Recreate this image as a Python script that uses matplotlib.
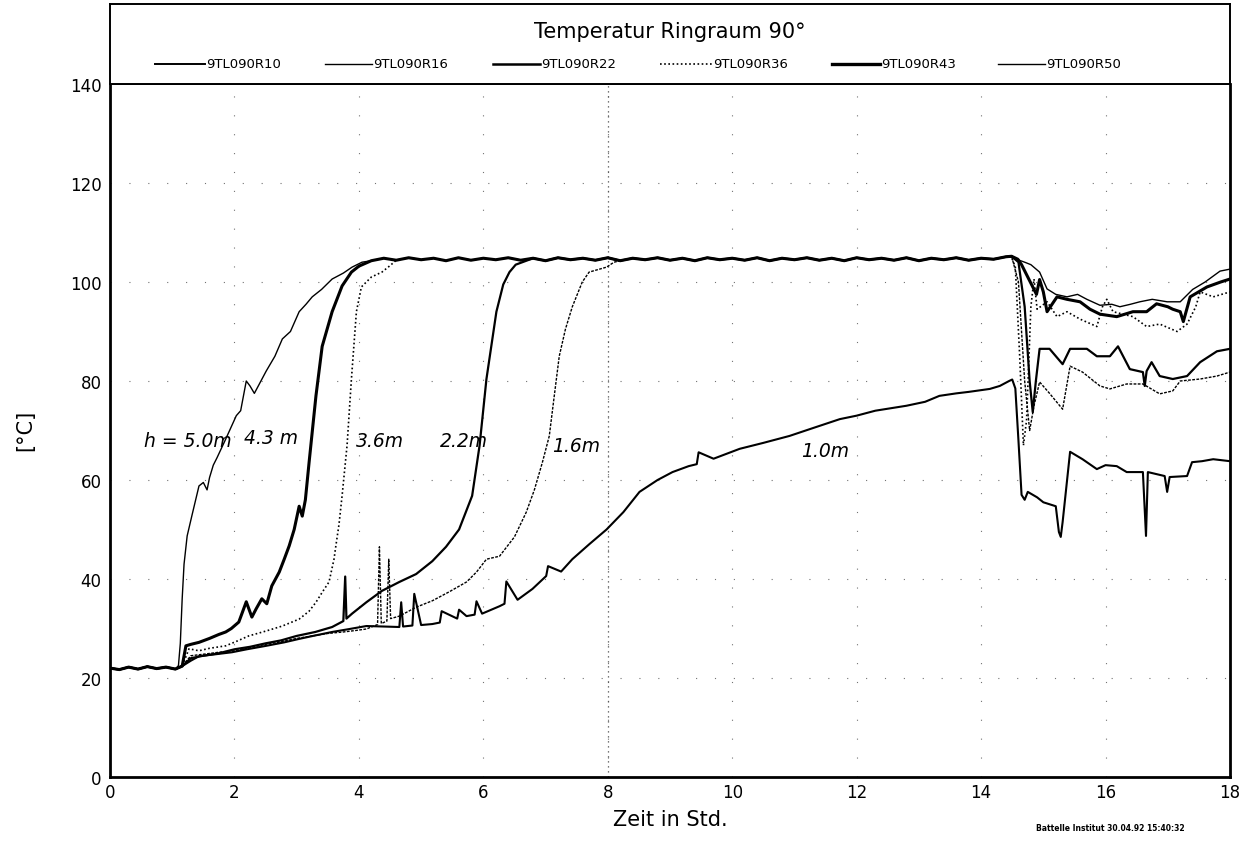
import matplotlib
matplotlib.use("Agg")
import matplotlib.pyplot as plt
from matplotlib.lines import Line2D

# ---------------- data ----------------
title = "Temperatur Ringraum 90°"
series_names = ["9TL090R10", "9TL090R16", "9TL090R22", "9TL090R36", "9TL090R43", "9TL090R50"]
height_labels = ["h = 5.0m", "4.3 m", "3.6m", "2.2m", "1.6m", "1.0m"]
height_label_x = [0.55, 2.15, 3.95, 5.3, 7.1, 11.1]
height_label_y = [68.0, 68.5, 68.0, 68.0, 67.0, 66.0]
x_ticks = [0, 2, 4, 6, 8, 10, 12, 14, 16, 18]
y_ticks = [0, 20, 40, 60, 80, 100, 120, 140]

# common initial part (all sensors)
start_t = [0.0, 0.15, 0.3, 0.45, 0.6, 0.75, 0.9, 1.05]
start_v = [22.0, 21.7, 22.2, 21.8, 22.3, 21.9, 22.2, 21.8]

# common plateau (all sensors at saturation)
plat_t = [4.2, 4.4, 4.6, 4.8, 5.0, 5.2, 5.4, 5.6, 5.8, 6.0, 6.2, 6.4, 6.6, 6.8, 7.0,
          7.2, 7.4, 7.6, 7.8, 8.0, 8.2, 8.4, 8.6, 8.8, 9.0, 9.2, 9.4, 9.6, 9.8, 10.0,
          10.2, 10.4, 10.6, 10.8, 11.0, 11.2, 11.4, 11.6, 11.8, 12.0, 12.2, 12.4, 12.6,
          12.8, 13.0, 13.2, 13.4, 13.6, 13.8, 14.0, 14.2, 14.4]
plat_v = [104.3, 104.8, 104.4, 104.9, 104.5, 104.8, 104.3, 104.9, 104.4, 104.8, 104.5,
          104.9, 104.4, 104.8, 104.3, 104.9, 104.5, 104.8, 104.4, 104.9, 104.3, 104.8,
          104.5, 104.9, 104.4, 104.8, 104.3, 104.9, 104.5, 104.8, 104.4, 104.9, 104.3,
          104.8, 104.5, 104.9, 104.4, 104.8, 104.3, 104.9, 104.5, 104.8, 104.4, 104.9,
          104.3, 104.8, 104.5, 104.9, 104.4, 104.8, 104.6, 105.1]

# R50 : h = 5.0 m
r50_rise_t = [1.1, 1.13, 1.16, 1.19, 1.24, 1.32, 1.43, 1.5, 1.56, 1.6, 1.66, 1.72, 1.85,
              2.03, 2.1, 2.19, 2.25, 2.32, 2.51, 2.65, 2.77, 2.9, 3.04, 3.15, 3.25, 3.4,
              3.57, 3.75, 3.89, 4.05]
r50_rise_v = [22.5, 27, 36, 43, 48.7, 53, 58.8, 59.5, 58, 60.5, 63, 64.5, 68, 73, 74, 80,
              79, 77.5, 82, 85, 88.5, 90, 94, 95.5, 97, 98.5, 100.6, 101.8, 103, 104]
r50_post_t = [14.49, 14.59, 14.7, 14.8, 14.94, 15.06, 15.2, 15.38, 15.55, 15.7, 15.91,
              16.1, 16.23, 16.4, 16.55, 16.75, 16.99, 17.2, 17.4, 17.6, 17.84, 18.0]
r50_post_v = [105.2, 104.5, 104, 103.5, 102, 98.6, 97.5, 97, 97.5, 96.5, 95.3, 95.5, 95,
              95.5, 96, 96.5, 96, 96, 98.5, 100, 102.2, 102.6]

# R43 : h = 4.3 m
r43_rise_t = [1.16, 1.22, 1.3, 1.43, 1.6, 1.75, 1.86, 1.95, 2.07, 2.12, 2.19, 2.28, 2.35,
              2.44, 2.52, 2.6, 2.72, 2.8, 2.88, 2.96, 3.04, 3.09, 3.14, 3.2, 3.31, 3.41,
              3.57, 3.73, 3.88, 4.0, 4.2]
r43_rise_v = [22.4, 26.5, 26.8, 27.2, 28, 28.8, 29.3, 30, 31.3, 33, 35.4, 32.3, 34, 36, 35,
              38.6, 41.4, 44, 46.7, 50, 54.7, 52.7, 56, 63.6, 77, 87, 94, 99.2, 102, 103.2,
              104.3]
r43_post_t = [14.49, 14.59, 14.65, 14.75, 14.83, 14.89, 14.94, 15.0, 15.06, 15.22, 15.38,
              15.59, 15.75, 15.91, 16.18, 16.44, 16.66, 16.82, 17.0, 17.08, 17.2, 17.25,
              17.36, 17.63, 17.85, 18.0]
r43_post_v = [105.2, 104.6, 103.5, 101, 99, 97.5, 100.5, 98, 94, 97, 96.5, 96, 94.5, 93.5,
              93, 94, 94, 95.6, 95, 94.5, 94, 92, 97, 99, 100, 100.6]

# R36 : h = 3.6 m
r36_rise_t = [1.16, 1.27, 1.43, 1.6, 1.86, 2.05, 2.23, 2.51, 2.77, 3.04, 3.2, 3.31, 3.42,
              3.52, 3.6, 3.63, 3.68, 3.73, 3.81, 3.88, 3.96, 4.04, 4.2, 4.37, 4.5]
r36_rise_v = [22.4, 25.9, 25.5, 26, 26.5, 27.5, 28.5, 29.5, 30.5, 31.9, 33.5, 35.3, 37.5,
              39.4, 44, 46.7, 51, 56.8, 67, 80.4, 94, 99, 101, 102, 103.3]
r36_post_t = [14.49, 14.55, 14.62, 14.68, 14.73, 14.8, 14.85, 14.9, 15.06, 15.22, 15.38,
              15.59, 15.86, 15.95, 16.02, 16.12, 16.44, 16.66, 16.87, 17.15, 17.31, 17.45,
              17.52, 17.73, 18.0]
r36_post_v = [105, 103, 85, 67, 72, 95, 100.6, 94.5, 96, 93, 94, 92.5, 91, 95, 96.5, 94, 93,
              91, 91.5, 90, 91.5, 95, 98, 97, 98]

# R22 : h = 2.2 m
r22_rise_t = [1.16, 1.3, 1.5, 1.75, 2.0, 2.25, 2.5, 2.75, 3.0, 3.3, 3.57, 3.75, 3.78, 3.8,
              3.89, 4.12, 4.37, 4.65, 4.92, 5.18, 5.4, 5.61, 5.82, 5.94, 6.05, 6.21, 6.32,
              6.42, 6.52]
r22_rise_v = [22.4, 24, 24.5, 25, 25.8, 26.3, 27, 27.6, 28.5, 29.3, 30.3, 31.5, 40.5, 32,
              33, 35.3, 37.6, 39.4, 41, 43.6, 46.5, 50, 56.8, 67, 80.4, 94, 99.5, 102, 103.5]
r22_post_t = [14.49, 14.6, 14.7, 14.78, 14.83, 14.88, 14.94, 15.1, 15.31, 15.43, 15.7,
              15.86, 16.07, 16.2, 16.39, 16.6, 16.63, 16.66, 16.74, 16.87, 17.08, 17.31,
              17.52, 17.79, 18.0]
r22_post_v = [105.2, 104, 95, 80, 73.7, 80, 86.5, 86.5, 83.4, 86.5, 86.5, 85, 85, 87, 82.4,
              81.8, 79, 82, 83.8, 81, 80.4, 81, 83.8, 86, 86.5]

# R16 : h = 1.6 m
r16_rise_t = [1.16, 1.3, 1.5, 1.75, 2.0, 2.25, 2.5, 2.75, 3.0, 3.25, 3.5, 3.75, 3.95, 4.12,
              4.3, 4.33, 4.36, 4.45, 4.48, 4.51, 4.65, 4.92, 5.18, 5.45, 5.73, 5.89, 6.05,
              6.26, 6.5, 6.69, 6.82, 6.95, 7.06, 7.14, 7.22, 7.32, 7.43, 7.59, 7.7, 7.98, 8.1]
r16_rise_v = [22.4, 24.5, 24.8, 25.2, 25.5, 26.1, 26.8, 27.3, 28, 28.5, 29, 29.3, 29.6,
              29.9, 30.8, 46.5, 31, 31.5, 44, 32, 32.5, 34.3, 35.6, 37.4, 39.4, 41.4, 44,
              44.6, 48.5, 53.5, 58, 63.6, 68.9, 77, 85, 90.5, 95, 100, 102, 103, 104]
r16_post_t = [14.49, 14.6, 14.7, 14.78, 14.85, 14.94, 15.1, 15.31, 15.43, 15.63, 15.91,
              16.07, 16.34, 16.6, 16.87, 17.08, 17.2, 17.52, 17.79, 18.0]
r16_post_v = [105.2, 100, 80, 70, 75, 79.8, 77.5, 74.3, 83, 81.8, 79, 78.4, 79.4, 79.4,
              77.4, 78, 80, 80.4, 81, 81.8]

# R10 : h = 1.0 m (never reaches the plateau)
r10_rise_t = [1.16, 1.3, 1.43, 1.7, 1.96, 2.2, 2.51, 2.8, 3.04, 3.3, 3.57, 3.85, 4.12, 4.4,
              4.65, 4.68, 4.71, 4.86, 4.89, 5.0, 5.18, 5.3, 5.33, 5.58, 5.61, 5.73, 5.86,
              5.89, 5.98, 6.26, 6.34, 6.37, 6.55, 6.79, 7.01, 7.04, 7.25, 7.43, 7.7, 7.98,
              8.25, 8.51, 8.8, 9.04, 9.3, 9.43, 9.46, 9.7, 10.12, 10.5, 10.92, 11.3, 11.73,
              12.0, 12.3, 12.8, 13.1, 13.33, 13.6, 13.8, 14.14, 14.3, 14.45]
r10_rise_v = [22.4, 23.5, 24.4, 24.8, 25.2, 25.8, 26.5, 27.2, 27.9, 28.6, 29.3, 29.9, 30.5,
              30.4, 30.3, 35.3, 30.4, 30.6, 37, 30.7, 30.9, 31.2, 33.5, 32, 33.8, 32.5,
              32.8, 35.5, 33, 34.5, 35, 39.5, 35.8, 38, 40.6, 42.6, 41.5, 44, 47, 50, 53.5,
              57.6, 60, 61.6, 62.8, 63.2, 65.6, 64.3, 66.3, 67.5, 68.9, 70.5, 72.3, 73, 74,
              75, 75.8, 77, 77.5, 77.8, 78.4, 79, 80]
r10_post_t = [14.5, 14.55, 14.6, 14.65, 14.7, 14.75, 14.9, 15.0, 15.2, 15.25, 15.28, 15.31,
              15.43, 15.63, 15.86, 16.0, 16.18, 16.34, 16.6, 16.65, 16.68, 16.95, 16.99,
              17.03, 17.31, 17.39, 17.55, 17.73, 18.0]
r10_post_v = [80.3, 78.5, 68, 57, 56, 57.6, 56.5, 55.5, 54.7, 49.5, 48.5, 51.5, 65.7, 64.2,
              62.2, 63, 62.8, 61.6, 61.6, 48.7, 61.6, 60.8, 57.6, 60.6, 60.8, 63.6, 63.8,
              64.2, 63.8]


def assemble(rise_t, rise_v, post_t, post_v, use_plateau=True):
    t = list(start_t) + list(rise_t)
    v = list(start_v) + list(rise_v)
    if use_plateau:
        for pt, pv in zip(plat_t, plat_v):
            if pt > rise_t[-1] + 0.08:
                t.append(pt)
                v.append(pv)
    return t + list(post_t), v + list(post_v)


curves = {
    "9TL090R10": assemble(r10_rise_t, r10_rise_v, r10_post_t, r10_post_v, use_plateau=False),
    "9TL090R16": assemble(r16_rise_t, r16_rise_v, r16_post_t, r16_post_v),
    "9TL090R22": assemble(r22_rise_t, r22_rise_v, r22_post_t, r22_post_v),
    "9TL090R36": assemble(r36_rise_t, r36_rise_v, r36_post_t, r36_post_v),
    "9TL090R43": assemble(r43_rise_t, r43_rise_v, r43_post_t, r43_post_v),
    "9TL090R50": assemble(r50_rise_t, r50_rise_v, r50_post_t, r50_post_v),
}

plot_styles = {
    "9TL090R10": dict(lw=1.5, ls="-"),
    "9TL090R16": dict(lw=1.0, ls=(0, (2, 1))),
    "9TL090R22": dict(lw=1.6, ls="-"),
    "9TL090R36": dict(lw=1.2, ls=(0, (1, 1.5))),
    "9TL090R43": dict(lw=2.2, ls="-"),
    "9TL090R50": dict(lw=1.0, ls="-"),
}
legend_styles = {
    "9TL090R10": dict(lw=1.4, ls="-"),
    "9TL090R16": dict(lw=1.0, ls="-"),
    "9TL090R22": dict(lw=1.8, ls="-"),
    "9TL090R36": dict(lw=1.2, ls=(0, (1, 1.5))),
    "9TL090R43": dict(lw=2.4, ls="-"),
    "9TL090R50": dict(lw=1.0, ls="-"),
}

# ---------------- figure ----------------
W, H = 1241, 845
fig = plt.figure(figsize=(W / 100, H / 100), dpi=100)
fig.patch.set_facecolor("white")

left_px, right_px, top_px, bottom_px = 110, 1230, 85, 778
ax = fig.add_axes([left_px / W, 1 - bottom_px / H, (right_px - left_px) / W,
                   (bottom_px - top_px) / H])
hax = fig.add_axes([left_px / W, 1 - top_px / H, (right_px - left_px) / W, 80 / H])

# grid (very sparse dots like the plotter output)
for xv in x_ticks[1:-1]:
    ax.axvline(xv, color="0.45", lw=0.8, ls=(0, (1, 16)), zorder=0)
for yv in y_ticks[1:-1]:
    ax.axhline(yv, color="0.45", lw=0.8, ls=(0, (1, 16)), zorder=0)
ax.axvline(8, color="0.3", lw=0.9, ls=(0, (1, 3)), zorder=0)

for name in series_names:
    t, v = curves[name]
    st = plot_styles[name]
    ax.plot(t, v, color="black", lw=st["lw"], linestyle=st["ls"], zorder=3)

ax.set_xlim(0, 18)
ax.set_ylim(0, 140)
ax.set_xticks(x_ticks)
ax.set_yticks(y_ticks)
ax.set_xticklabels([str(x) for x in x_ticks])
ax.set_yticklabels([str(y) for y in y_ticks])
ax.tick_params(axis="both", length=0, labelsize=12, colors="black")
ax.tick_params(axis="x", pad=4)
ax.tick_params(axis="y", pad=6)
for side in ["left", "bottom", "right"]:
    ax.spines[side].set_linewidth(2.0)
ax.spines["top"].set_linewidth(1.4)

ax.set_xlabel("Zeit in Std.", fontsize=15, labelpad=6)
fig.text(25 / W, 1 - 430 / H, "[°C]", rotation=90, fontsize=15, ha="center", va="center")

# hand-written height annotations
for lab, lx, ly in zip(height_labels, height_label_x, height_label_y):
    ax.text(lx, ly, lab, fontsize=13.5, style="italic", family="DejaVu Sans",
            ha="left", va="center", zorder=4)

# header box with title and legend
hax.set_xlim(0, 1)
hax.set_ylim(0, 1)
hax.set_xticks([])
hax.set_yticks([])
for side in hax.spines.values():
    side.set_linewidth(1.4)
hax.text(0.5, 0.66, title, ha="center", va="center", fontsize=15)

line_start_px = [155, 325, 493, 660, 832, 998]
line_end_px = [205, 372, 540, 712, 880, 1045]
for name, ls_px, le_px in zip(series_names, line_start_px, line_end_px):
    x0 = (ls_px - left_px) / (right_px - left_px)
    x1 = (le_px - left_px) / (right_px - left_px)
    st = legend_styles[name]
    hax.add_line(Line2D([x0, x1], [0.25, 0.25], color="black", lw=st["lw"],
                        linestyle=st["ls"]))
    hax.text(x1 + 0.001, 0.25, name, ha="left", va="center", fontsize=9.5)

fig.text(1110 / W, 1 - 829 / H, "Battelle Institut 30.04.92 15:40:32", fontsize=5.5,
         fontweight="bold", ha="center", va="center")

fig.savefig("out.png", dpi=100, facecolor="white")
